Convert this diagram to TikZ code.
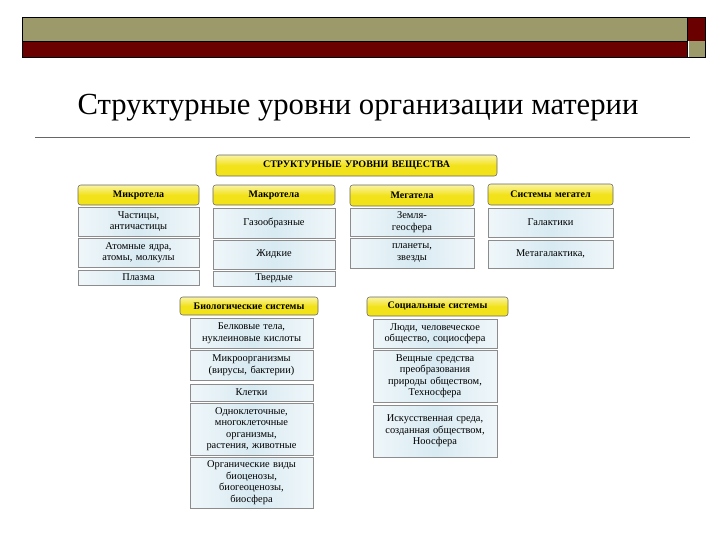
\documentclass[tikz,border=0pt]{standalone}
\usepackage{fontspec}
\setmainfont{Liberation Serif}
\definecolor{olive}{HTML}{9C9A6A}
\definecolor{dred}{HTML}{6B0000}
\definecolor{yel}{HTML}{F2E21A}
\definecolor{lblue}{HTML}{D8EAF2}
\begin{document}
\begin{tikzpicture}[x=0.75pt,y=-0.75pt,
 hdr/.style={draw=black!60,rounded corners=2pt,top color=yel!40,bottom color=yel,middle color=yel,font=\fontsize{7.5}{8.5}\selectfont\bfseries,align=center,inner sep=0pt},
 cell/.style={draw=black!45,left color=lblue!40,right color=lblue!40,middle color=lblue,font=\fontsize{7.8}{8.6}\selectfont,align=center,inner sep=0pt}]
\useasboundingbox (0,0) rectangle (720,540);
\fill[olive] (22,17) rectangle (687,41);
\fill[dred] (22,41) rectangle (687,57);
\draw (22,17) rectangle (687,57) (22,41)--(687,41);
\fill[dred] (687,17) rectangle (705,41);
\fill[olive] (689,41) rectangle (705,57);
\draw (687,17) rectangle (705,57);
\node (title) at (358,108) {\fontsize{23}{27}\selectfont Структурные уровни организации материи};
\draw[black!60] (35,137)--(690,137);
\newcommand\B[7]{\node[#1,minimum width={(#4-#3)*0.75pt},minimum height={(#6-#5)*0.75pt},text width={(#4-#3)*0.75pt-2pt}] (#2) at ({(#3+#4)/2},{(#5+#6)/2}) {#7};}
\B{hdr}{top}{216}{497}{155}{176}{СТРУКТУРНЫЕ УРОВНИ ВЕЩЕСТВА}
\B{hdr}{h1}{78}{199}{185}{205}{Микротела}
\B{hdr}{h2}{213}{335}{185}{205}{Макротела}
\B{hdr}{h3}{350}{474}{185}{206}{Мегатела}
\B{hdr}{h4}{488}{613}{184}{205}{Системы мегател}
\B{cell}{a1}{78}{199}{207}{236}{Частицы,\\античастицы}
\B{cell}{a2}{78}{199}{238}{267}{Атомные ядра,\\атомы, молкулы}
\B{cell}{a3}{78}{199}{270}{285}{Плазма}
\B{cell}{b1}{213}{335}{208}{238}{Газообразные}
\B{cell}{b2}{213}{335}{240}{269}{Жидкие}
\B{cell}{b3}{213}{335}{271}{286}{Твердые}
\B{cell}{c1}{350}{474}{208}{236}{Земля-\\геосфера}
\B{cell}{c2}{350}{474}{238}{268}{планеты,\\звезды}
\B{cell}{d1}{488}{613}{208}{237}{Галактики}
\B{cell}{d2}{488}{613}{240}{268}{Метагалактика,}
\B{hdr}{bio}{180}{318}{297}{315}{Биологические системы}
\B{cell}{e1}{190}{313}{318}{348}{Белковые тела,\\нуклеиновые кислоты}
\B{cell}{e2}{190}{313}{350}{380}{Микроорганизмы\\(вирусы, бактерии)}
\B{cell}{e3}{190}{313}{384}{401}{Клетки}
\B{cell}{e4}{190}{313}{403}{455}{Одноклеточные,\\многоклеточные\\организмы,\\растения, животные}
\B{cell}{e5}{190}{313}{457}{508}{Органические виды\\биоценозы,\\биогеоценозы,\\биосфера}
\B{hdr}{soc}{367}{508}{297}{316}{Социальные системы}
\B{cell}{f1}{373}{497}{319}{348}{Люди, человеческое\\общество, социосфера}
\B{cell}{f2}{373}{497}{350}{402}{Вещные средства\\преобразования\\природы обществом,\\Техносфера}
\B{cell}{f3}{373}{497}{405}{457}{Искусственная среда,\\созданная обществом,\\Ноосфера}
\end{tikzpicture}
\end{document}
